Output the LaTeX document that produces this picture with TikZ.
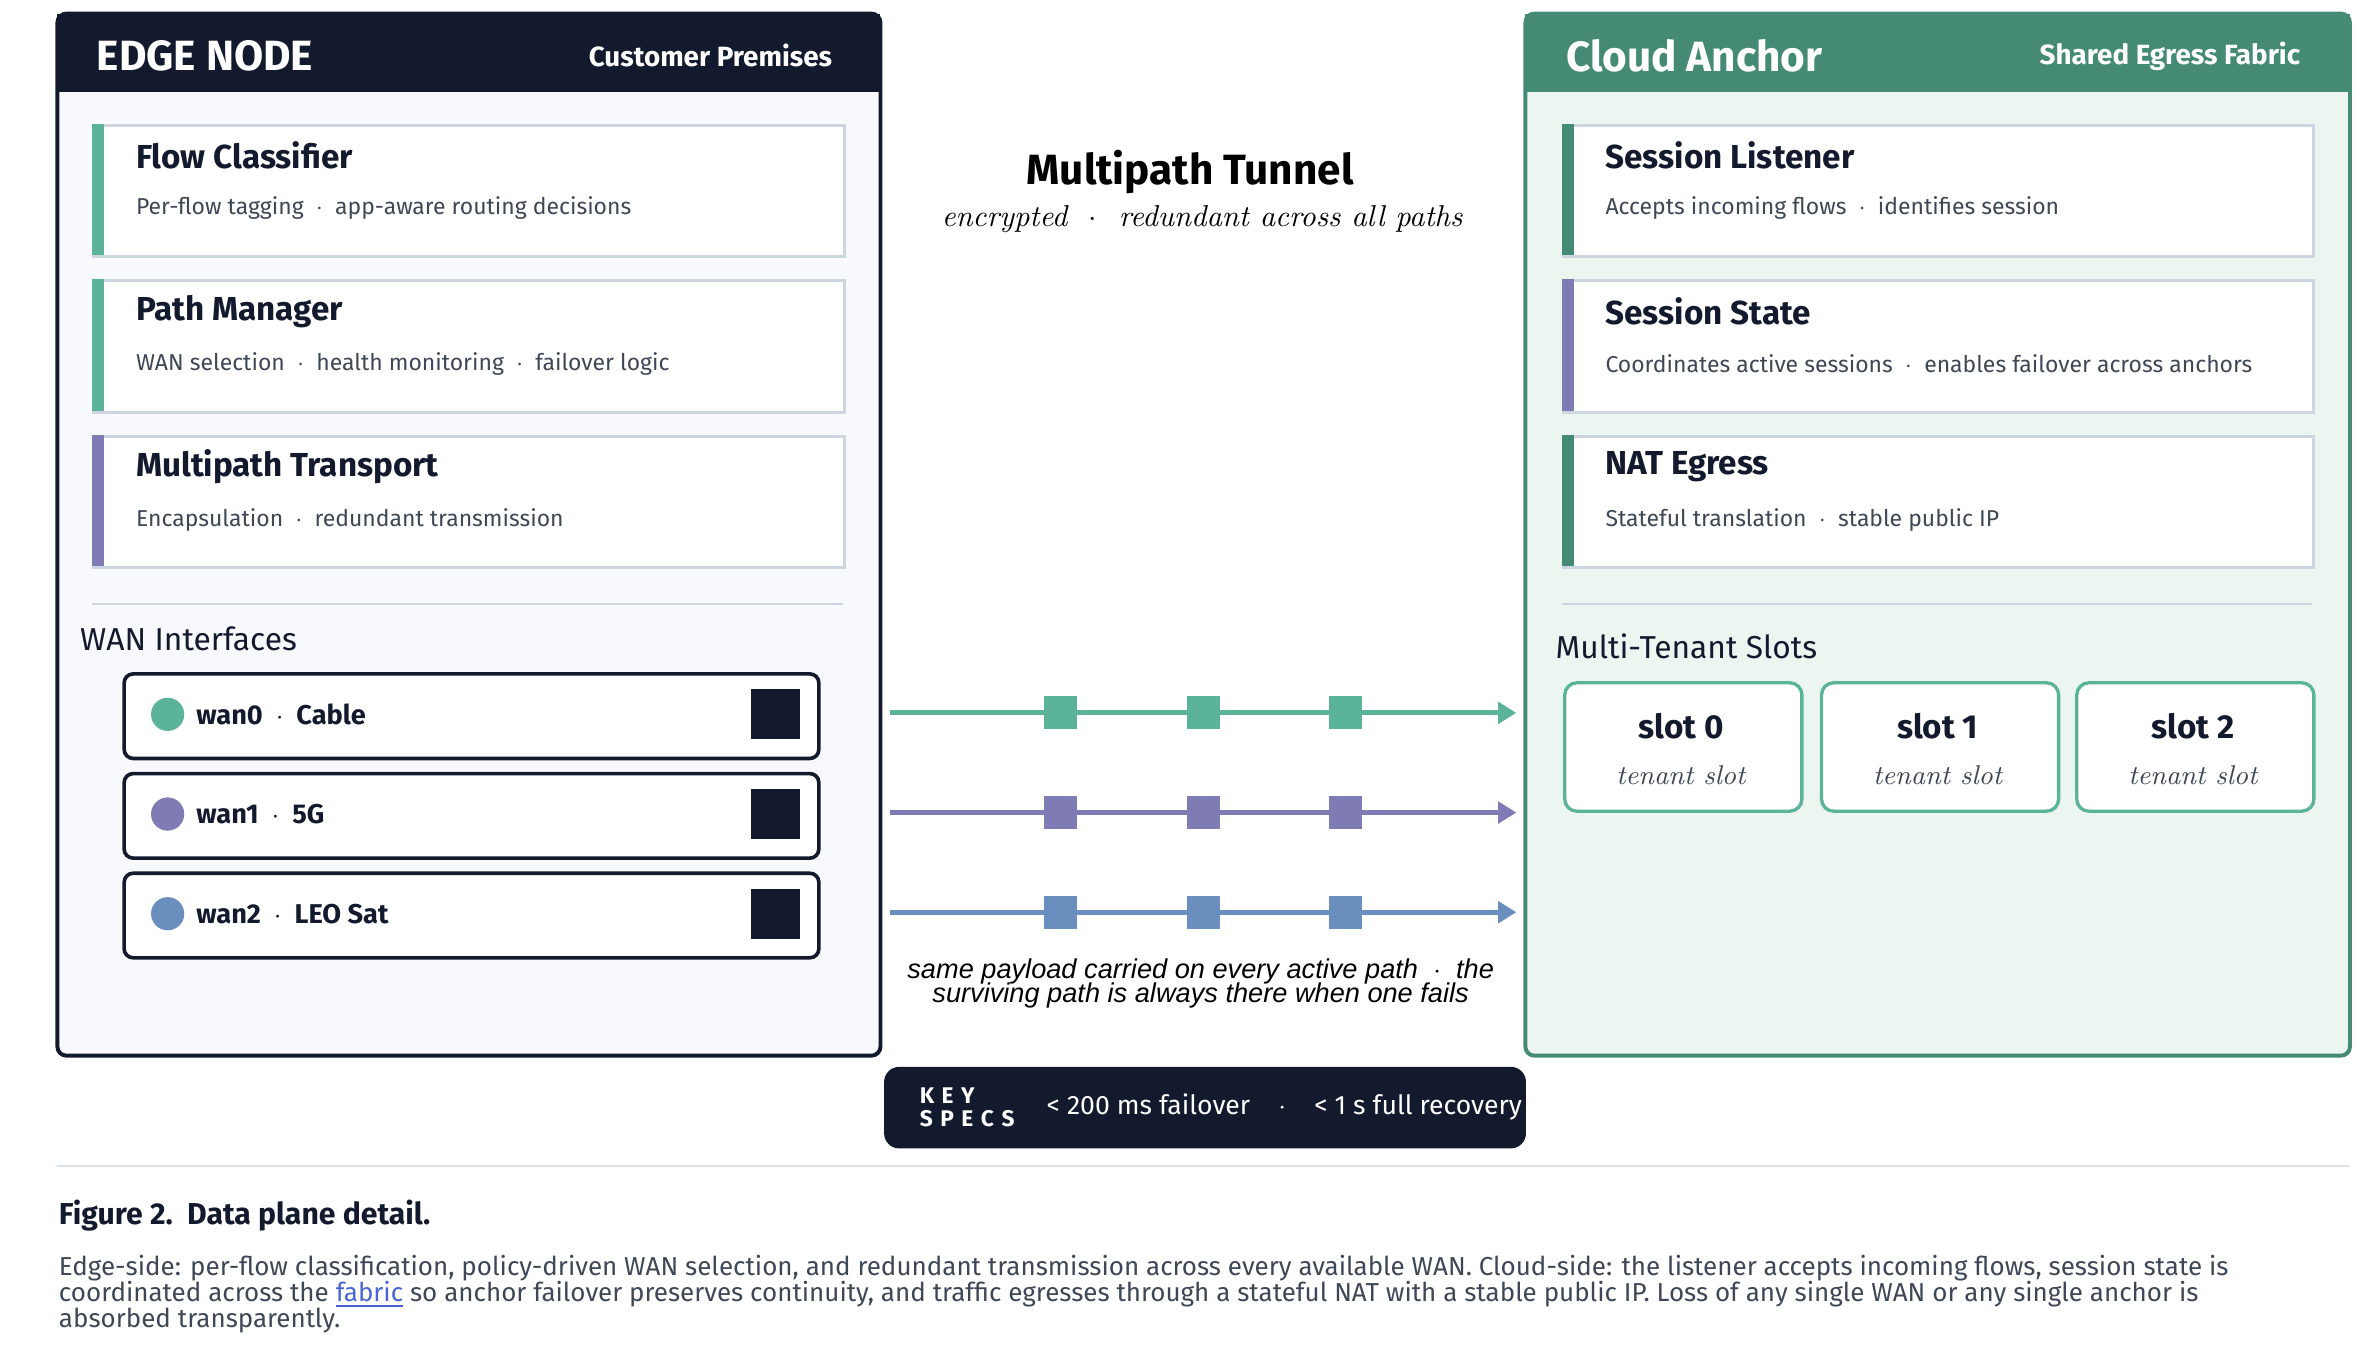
\documentclass[tikz,border=0pt]{standalone}
\usepackage{fontspec}
\setmainfont{Fira Sans}
\newfontfamily\serifit{Latin Modern Roman}
\newfontfamily\arialit{Liberation Sans}
\usetikzlibrary{arrows.meta,positioning}
\definecolor{ink}{HTML}{131A2E}
\definecolor{mint}{HTML}{5BB39A}
\definecolor{pine}{HTML}{458A75}
\definecolor{lav}{HTML}{7F7BB5}
\definecolor{steel}{HTML}{6A8FBF}
\definecolor{rim}{HTML}{CDD5E0}
\definecolor{fog}{HTML}{F7F9FC}
\definecolor{seafog}{HTML}{ECF6F1}
\definecolor{slate}{HTML}{3E4756}
\newcommand{\fs}[1]{\fontsize{#1}{#1}\selectfont}
\tikzset{
  card/.style={draw=rim,line width=1pt,fill=white,minimum width=248.5pt,minimum height=43.5pt,anchor=north west,inner sep=0pt},
  cardtitle/.style={anchor=west,font=\fs{11}\bfseries,text=ink},
  cardsub/.style={anchor=west,font=\fs{7.6},text=slate},
  wanbox/.style={draw=ink,line width=1.2pt,rounded corners=3pt,fill=white,minimum width=230pt,minimum height=28pt,anchor=north west},
  slotbox/.style={draw=mint,line width=1.1pt,rounded corners=4pt,fill=white,minimum width=78.5pt,minimum height=42.5pt,anchor=north west},
  pkt/.style={fill=#1,minimum size=11pt,inner sep=0pt},
  flow/.style={draw=#1,line width=1.6pt,-{Triangle[length=6pt,width=7pt]}},
}
\begin{document}
\begin{tikzpicture}[x=0.5pt,y=-0.5pt]
\useasboundingbox (0,0) rectangle (1560,896);
% edge node
\draw[ink,line width=1.3pt,fill=fog,rounded corners=3pt] (38,9) rectangle (583,699);
\fill[ink] (38,9) rectangle (583,61);
\node[anchor=west,text=white,font=\fs{14}\bfseries] (edgetitle) at (57,37) {EDGE NODE};
\node[anchor=east,text=white,font=\fs{9.2}\bfseries] (edgetag) at (558,37) {Customer Premises};
% cloud anchor
\draw[pine,line width=1.3pt,fill=seafog,rounded corners=3pt] (1010,9) rectangle (1556,699);
\fill[pine] (1010,9) rectangle (1556,61);
\node[anchor=west,text=white,font=\fs{14}\bfseries] (cloudtitle) at (1030,37) {Cloud Anchor};
\node[anchor=east,text=white,font=\fs{9.2}\bfseries] (cloudtag) at (1530,37) {Shared Egress Fabric};
% cards
\foreach \x/\y/\c/\t/\s/\n in {
  61/82/mint/Flow Classifier/{Per-flow tagging\ \ $\cdot$\ \ app-aware routing decisions}/fc,
  61/185/mint/Path Manager/{WAN selection\ \ $\cdot$\ \ health monitoring\ \ $\cdot$\ \ failover logic}/pm,
  61/288/lav/Multipath Transport/{Encapsulation\ \ $\cdot$\ \ redundant transmission}/mt,
  1034/82/pine/Session Listener/{Accepts incoming flows\ \ $\cdot$\ \ identifies session}/sl,
  1034/185/lav/Session State/{Coordinates active sessions\ \ $\cdot$\ \ enables failover across anchors}/ss,
  1034/288/pine/NAT Egress/{Stateful translation\ \ $\cdot$\ \ stable public IP}/ne}{
  \node[card] (\n) at (\x,\y) {};
  \fill[\c] (\n.north west) rectangle ++(8,87);
  \node[cardtitle] (\n t) at (\x+22,\y+21) {\t};
  \node[cardsub] (\n s) at (\x+22,\y+56) {\s};
}
\draw[rim,line width=0.8pt] (61,400) -- (558,400);
\draw[rim,line width=0.8pt] (1034,400) -- (1531,400);
% wan interfaces
\node[anchor=west,font=\fs{10.5},text=ink] (wanhead) at (46,423) {WAN Interfaces};
\foreach \y/\c/\t/\n in {445/mint/{wan0\ \ $\cdot$\ \ Cable}/w0, 511/lav/{wan1\ \ $\cdot$\ \ 5G}/w1, 577/steel/{wan2\ \ $\cdot$\ \ LEO Sat}/w2}{
  \node[wanbox] (\n) at (81,\y) {};
  \fill[\c] (111,\y+28) circle (5.5pt);
  \node[anchor=west,font=\fs{9}\bfseries,text=ink] (\n t) at (123,\y+28) {\t};
  \node[fill=ink,minimum size=16.5pt,inner sep=0pt] (\n p) at (513.5,\y+28) {};
}
% tunnel
\node[font=\fs{14}\bfseries,text=black] (tunnel) at (788,114) {Multipath Tunnel};
\node[font=\fs{10}\serifit\itshape,text=black] (tunnelsub) at (796,145) {encrypted\ \ $\cdot$\ \ redundant across all paths};
\foreach \y/\c/\n in {472/mint/a,538/lav/b,604/steel/c}{
  \coordinate (\n0) at (589,\y);
  \coordinate (\n4) at (1004,\y);
  \draw[flow=\c] (\n0) -- (\n4);
  \node[pkt=\c] (\n1) at (702,\y) {};
  \node[pkt=\c] (\n2) at (797,\y) {};
  \node[pkt=\c] (\n3) at (891,\y) {};
}
\node[align=center,font=\fs{9}\arialit\itshape,text=black] (payload) at (795,651) {same payload carried on every active path\ \ $\cdot$\ \ the\\[-1pt]surviving path is always there when one fails};
% key specs
\node[fill=ink,rounded corners=5pt,minimum width=212.5pt,minimum height=27pt,anchor=north west] (keybox) at (585,706) {};
\node[anchor=west,align=left,text=white,font=\fs{7.5}\bfseries] (keylbl) at (602,733) {K\,\,E\,\,Y\\S\,\,P\,\,E\,\,C\,\,S};
\node[anchor=west,text=white,font=\fs{8.8}] (keyval) at (686,733) {< 200 ms failover\ \ \ \ $\cdot$\ \ \ \ < 1 s full recovery};
% slots
\node[anchor=west,font=\fs{10.5},text=ink] (slothead) at (1023,428) {Multi-Tenant Slots};
\foreach \x/\i in {1035/0,1205/1,1374/2}{
  \node[slotbox] (slot\i) at (\x,451) {};
  \node[font=\fs{11}\bfseries,text=ink] (slot\i t) at (\x+78,481) {slot \i};
  \node[font=\fs{9}\serifit\itshape,text=slate] (slot\i s) at (\x+78,513) {tenant slot};
}
% caption
\draw[rim!70,line width=0.7pt] (38,772) -- (1556,772);
\node[anchor=west,font=\fs{10}\bfseries,text=ink] (figcap) at (32,805) {Figure 2.\ \ Data plane detail.};
\node[anchor=north west,align=left,font=\fs{8.6},text=slate] (figtext) at (32,824) {Edge-side: per-flow classification, policy-driven WAN selection, and redundant transmission across every available WAN. Cloud-side: the listener accepts incoming flows, session state is\\coordinated across the \textcolor{steel!70!blue}{\underline{fabric}} so anchor failover preserves continuity, and traffic egresses through a stateful NAT with a stable public IP. Loss of any single WAN or any single anchor is\\absorbed transparently.};
\end{tikzpicture}
\end{document}
